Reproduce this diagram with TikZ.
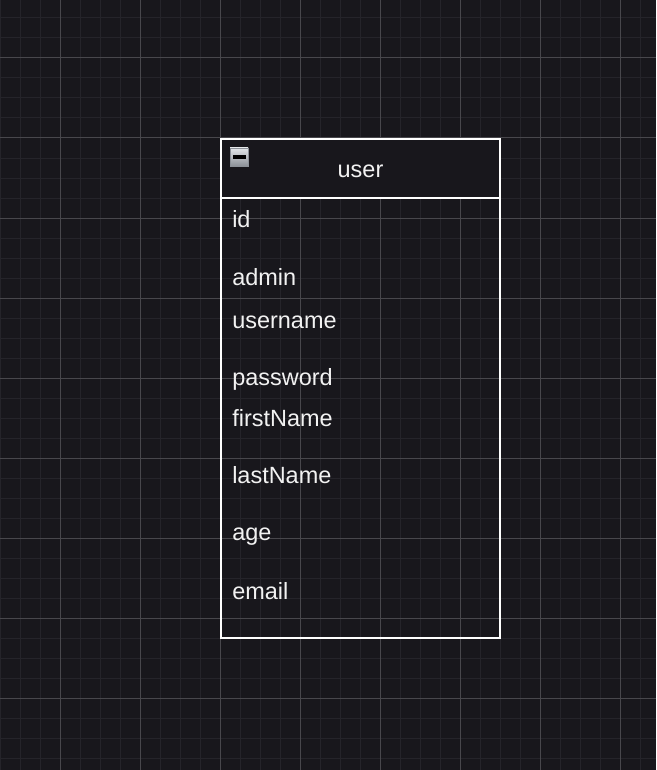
\documentclass[tikz,border=0pt]{standalone}
\usepackage{fontspec}
\setmainfont{Liberation Sans}
\usetikzlibrary{positioning}
\definecolor{canvas}{HTML}{18171C}
\definecolor{gridminor}{HTML}{25242A}
\definecolor{gridmajor}{HTML}{48474C}
\definecolor{fieldtext}{HTML}{F2F2F2}
\definecolor{iconlight}{HTML}{E2E5E8}
\definecolor{icondark}{HTML}{8C9198}
\tikzset{
minor grid/.style={draw=gridminor, line width=0.75pt},
major grid/.style={draw=gridmajor, line width=0.75pt},
table frame/.style={draw=white, line width=1.2pt},
field/.style={%
    anchor=base west,
    inner sep=0pt,
    text=fieldtext,
    font=\fontsize{17.6}{20}\selectfont
},
title/.style={field, anchor=base},
}

\begin{document}
\begin{tikzpicture}[x=0.75pt, y=-0.75pt]
\useasboundingbox (0,0) rectangle (656,770);
\fill[canvas] (0,0) rectangle (656,770);

% grid
\foreach \gx in {0,20,...,640} \draw[minor grid] (\gx,0) -- (\gx,770);
\foreach \gy in {18,38,...,758} \draw[minor grid] (0,\gy) -- (656,\gy);
\foreach \gx in {60,140,...,620} \draw[major grid] (\gx,0) -- (\gx,770);
\foreach \gy in {58,138,...,698} \draw[major grid] (0,\gy) -- (656,\gy);

% table
\coordinate (tbl nw) at (221,139);
\coordinate (hdr se) at (500,198);
\coordinate (tbl se) at (500,638);
\filldraw[table frame, fill=canvas] (tbl nw) rectangle (hdr se);
\draw[table frame] (tbl nw) rectangle (tbl se);

% collapse icon
\shade[top color=iconlight, bottom color=icondark, draw=icondark, line width=0.5pt] (230,148) rectangle (248,166);
\fill[black] (232.5,155.5) rectangle (245.5,158.5);

\node[title] (user) at (360.5,177) {user};

\foreach \fname/\fy in {id/227, admin/285, username/328, password/385, firstName/426, lastName/483, age/540, email/599}
    \node[field] (f-\fname) at (232,\fy) {\fname};

\end{tikzpicture}
\end{document}
